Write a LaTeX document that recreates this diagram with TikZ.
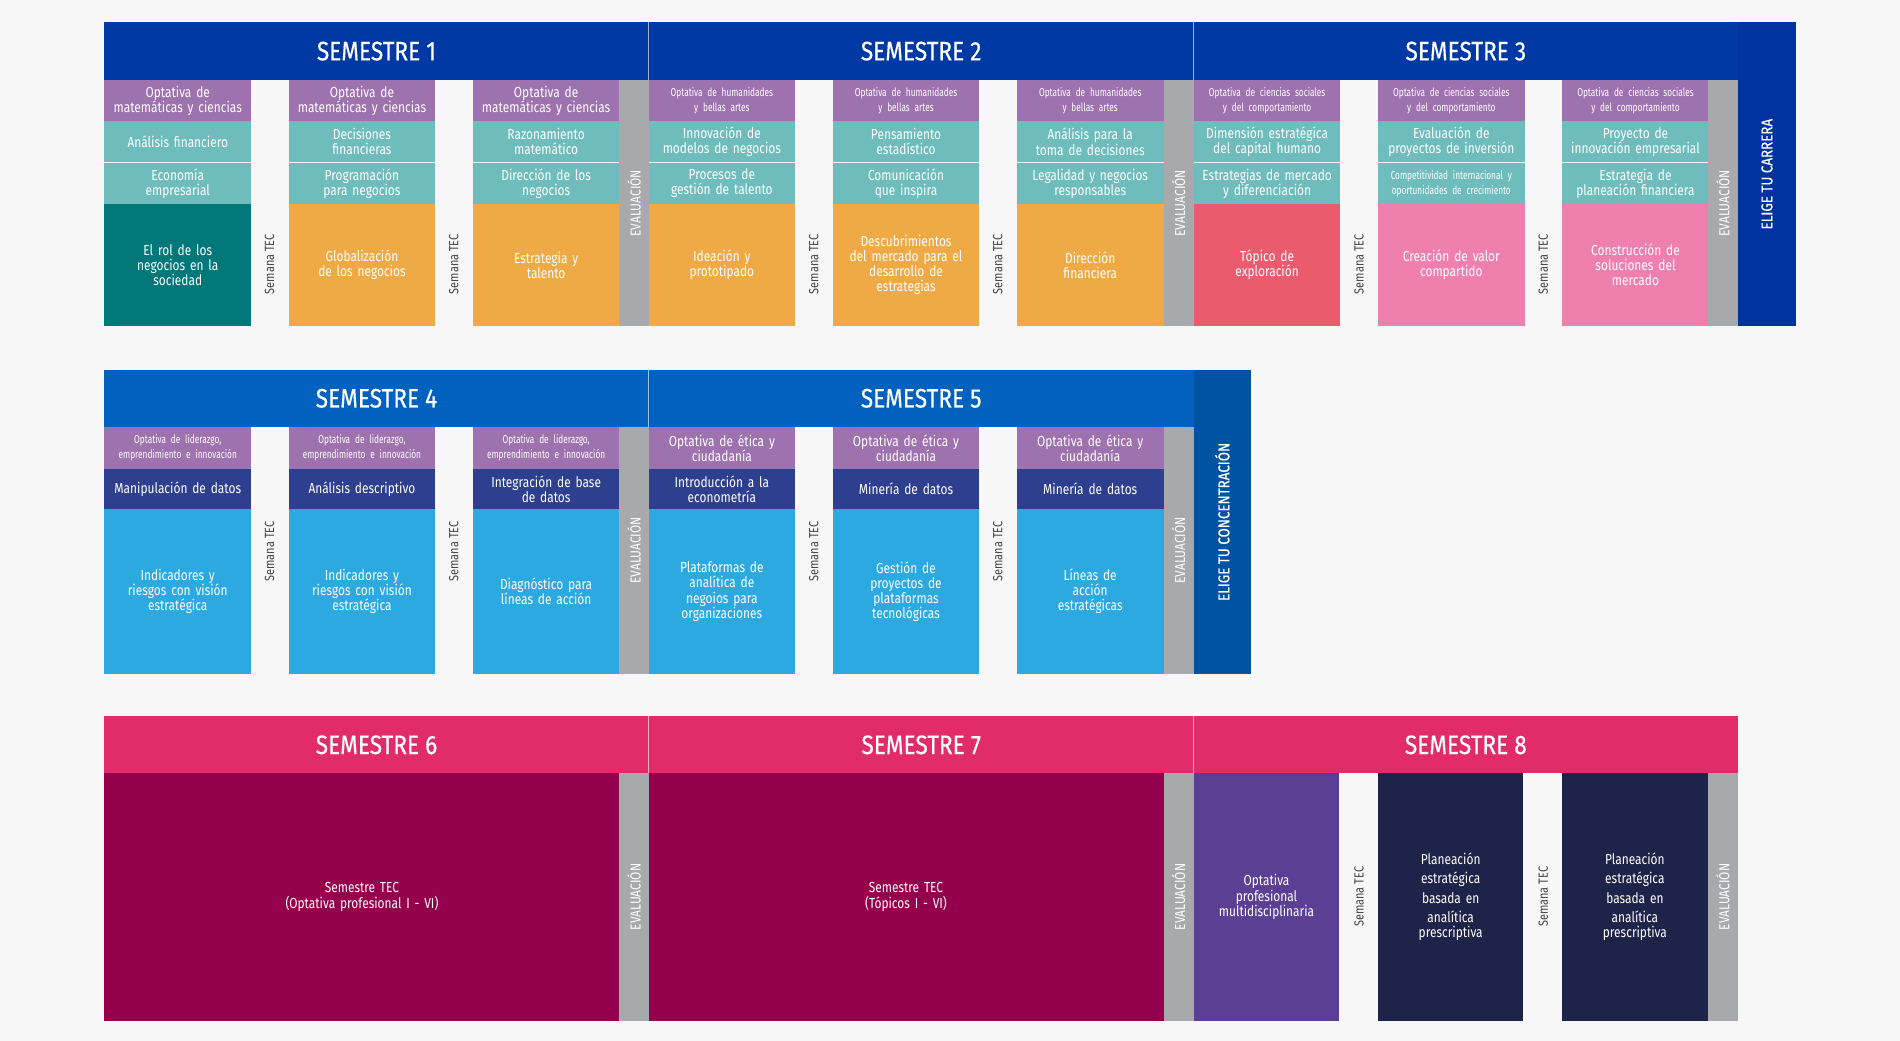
\documentclass[tikz,border=0pt]{standalone}
\usepackage{fontspec}
\setmainfont{Fira Sans}[FakeStretch=0.82]
\newfontfamily\hfont{Fira Sans}[FakeStretch=0.85,FakeBold=0.4]
\definecolor{bg}{HTML}{F7F7F7}
\definecolor{hblue}{HTML}{0039A4}
\definecolor{eblue}{HTML}{0033A0}
\definecolor{hblue2}{HTML}{0062BE}
\definecolor{hpink}{HTML}{E22C6A}
\definecolor{purp}{HTML}{9E72AE}
\definecolor{teal}{HTML}{6FBCBD}
\definecolor{dteal}{HTML}{00787A}
\definecolor{orng}{HTML}{EFAA45}
\definecolor{grey}{HTML}{A7A9AC}
\definecolor{redc}{HTML}{EB5B6E}
\definecolor{pinkc}{HTML}{EF80AE}
\definecolor{dblue}{HTML}{2E3F8F}
\definecolor{lblue}{HTML}{2CA9E1}
\definecolor{maroon}{HTML}{95004C}
\definecolor{violet}{HTML}{5B3F94}
\definecolor{navy}{HTML}{1E2449}
\definecolor{tecgrey}{HTML}{444444}
\tikzset{
 cellb/.style={anchor=north west,inner sep=0pt,align=center,text=white,font=\fontsize{12}{12.5}\selectfont},
 hdr/.style={anchor=north west,inner sep=0pt,text=white,font=\hfont\fontsize{22}{22}\selectfont},
 vtext/.style={rotate=90,text=tecgrey,font=\fontsize{11}{11}\selectfont},
 evtext/.style={rotate=90,text=white,font=\fontsize{12}{12}\selectfont},
}
% name, x, ytop, width, height, color, text
\newcommand\cb[7]{\node[cellb,fill=#6,minimum width=#4pt,minimum height=#5pt,text width=#4pt] (#1) at (#2pt,-#3pt) {#7};}
\newcommand\sm{\fontsize{9.5}{9.5}\selectfont\addfontfeature{FakeStretch=0.72}}
\begin{document}
\begin{tikzpicture}[x=1pt,y=1pt]
\fill[bg] (0,0) rectangle (1568,-859);
\useasboundingbox (0,0) rectangle (1568,-859);
% ===== Row 1 =====
\node[hdr,fill=hblue,minimum width=449pt,minimum height=48pt] (h1) at (86pt,-18pt) {SEMESTRE 1};
\node[hdr,fill=hblue,minimum width=450pt,minimum height=48pt] (h2) at (535pt,-18pt) {SEMESTRE 2};
\node[hdr,fill=hblue,minimum width=449pt,minimum height=48pt] (h3) at (985pt,-18pt) {SEMESTRE 3};
\draw[white!60!hblue,line width=0.6pt] (535,-18) -- (535,-66) (985,-18) -- (985,-66);
\node[anchor=north west,fill=eblue,minimum width=48pt,minimum height=251pt,inner sep=0pt] (elige1) at (1434pt,-18pt) {};
\node[rotate=90,text=white,font=\hfont\fontsize{13}{13}\selectfont] (elt1) at (elige1.center) {ELIGE TU CARRERA};
% S1
\cb{a1}{86}{66}{121}{34}{purp}{Optativa de\\matemáticas y ciencias}
\cb{a2}{86}{100}{121}{33.5}{teal}{Análisis financiero}
\cb{a3}{86}{134.5}{121}{33.5}{teal}{Economía\\empresarial}
\cb{a4}{86}{168}{121}{101}{dteal}{El rol de los\\negocios en la\\sociedad}
\cb{b1}{238}{66}{121}{34}{purp}{Optativa de\\matemáticas y ciencias}
\cb{b2}{238}{100}{121}{33.5}{teal}{Decisiones\\financieras}
\cb{b3}{238}{134.5}{121}{33.5}{teal}{Programación\\para negocios}
\cb{b4}{238}{168}{121}{101}{orng}{Globalización\\de los negocios}
\cb{c1}{390}{66}{121}{34}{purp}{Optativa de\\matemáticas y ciencias}
\cb{c2}{390}{100}{121}{33.5}{teal}{Razonamiento\\matemático}
\cb{c3}{390}{134.5}{121}{33.5}{teal}{Dirección de los\\negocios}
\cb{c4}{390}{168}{121}{101}{orng}{Estrategia y\\talento}
\cb{e1}{511}{66}{24}{203}{grey}{}
% S2
\cb{d1}{535}{66}{121}{34}{purp}{\sm Optativa de humanidades\\y bellas artes}
\cb{d2}{535}{100}{121}{33.5}{teal}{Innovación de\\modelos de negocios}
\cb{d3}{535}{134.5}{121}{33.5}{teal}{Procesos de\\gestión de talento}
\cb{d4}{535}{168}{121}{101}{orng}{Ideación y\\prototipado}
\cb{f1}{687}{66}{121}{34}{purp}{\sm Optativa de humanidades\\y bellas artes}
\cb{f2}{687}{100}{121}{33.5}{teal}{Pensamiento\\estadístico}
\cb{f3}{687}{134.5}{121}{33.5}{teal}{Comunicación\\que inspira}
\cb{f4}{687}{168}{121}{101}{orng}{Descubrimientos\\del mercado para el\\desarrollo de\\estrategias}
\cb{g1}{839}{66}{121}{34}{purp}{\sm Optativa de humanidades\\y bellas artes}
\cb{g2}{839}{100}{121}{33.5}{teal}{Análisis para la\\toma de decisiones}
\cb{g3}{839}{134.5}{121}{33.5}{teal}{Legalidad y negocios\\responsables}
\cb{g4}{839}{168}{121}{101}{orng}{Dirección\\financiera}
\cb{e2}{960}{66}{25}{203}{grey}{}
% S3
\cb{i1}{985}{66}{121}{34}{purp}{\sm Optativa de ciencias sociales\\y del comportamiento}
\cb{i2}{985}{100}{121}{33.5}{teal}{Dimensión estratégica\\del capital humano}
\cb{i3}{985}{134.5}{121}{33.5}{teal}{Estrategias de mercado\\y diferenciación}
\cb{i4}{985}{168}{121}{101}{redc}{Tópico de\\exploración}
\cb{j1}{1137}{66}{121}{34}{purp}{\sm Optativa de ciencias sociales\\y del comportamiento}
\cb{j2}{1137}{100}{121}{33.5}{teal}{Evaluación de\\proyectos de inversión}
\cb{j3}{1137}{134.5}{121}{33.5}{teal}{\sm Competitividad internacional y\\oportunidades de crecimiento}
\cb{j4}{1137}{168}{121}{101}{pinkc}{Creación de valor\\compartido}
\cb{k1}{1289}{66}{121}{34}{purp}{\sm Optativa de ciencias sociales\\y del comportamiento}
\cb{k2}{1289}{100}{121}{33.5}{teal}{Proyecto de\\innovación empresarial}
\cb{k3}{1289}{134.5}{121}{33.5}{teal}{Estrategia de\\planeación financiera}
\cb{k4}{1289}{168}{121}{101}{pinkc}{Construcción de\\soluciones del\\mercado}
\cb{e3}{1409}{66}{25}{203}{grey}{}
% ===== Row 2 =====
\node[hdr,fill=hblue2,minimum width=449pt,minimum height=47pt] (h4) at (86pt,-305pt) {SEMESTRE 4};
\node[hdr,fill=hblue2,minimum width=450pt,minimum height=47pt] (h5) at (535pt,-305pt) {SEMESTRE 5};
\draw[white!60!hblue2,line width=0.6pt] (535,-305) -- (535,-352);
\node[anchor=north west,fill=hblue2!85!black,minimum width=47pt,minimum height=251pt,inner sep=0pt] (elige2) at (985pt,-305pt) {};
\node[rotate=90,text=white,font=\hfont\fontsize{13}{13}\selectfont] (elt2) at (elige2.center) {ELIGE TU CONCENTRACIÓN};
\cb{m1}{86}{352}{121}{35}{purp}{\sm Optativa de liderazgo,\\emprendimiento e innovación}
\cb{m2}{86}{387}{121}{33}{dblue}{Manipulación de datos}
\cb{m3}{86}{420}{121}{136}{lblue}{Indicadores y\\riesgos con visión\\estratégica}
\cb{n1}{238}{352}{121}{35}{purp}{\sm Optativa de liderazgo,\\emprendimiento e innovación}
\cb{n2}{238}{387}{121}{33}{dblue}{Análisis descriptivo}
\cb{n3}{238}{420}{121}{136}{lblue}{Indicadores y\\riesgos con visión\\estratégica}
\cb{o1}{390}{352}{121}{35}{purp}{\sm Optativa de liderazgo,\\emprendimiento e innovación}
\cb{o2}{390}{387}{121}{33}{dblue}{Integración de base\\de datos}
\cb{o3}{390}{420}{121}{136}{lblue}{Diagnóstico para\\líneas de acción}
\cb{e4}{511}{352}{24}{204}{grey}{}
\cb{p1}{535}{352}{121}{35}{purp}{Optativa de ética y\\ciudadanía}
\cb{p2}{535}{387}{121}{33}{dblue}{Introducción a la\\econometría}
\cb{p3}{535}{420}{121}{136}{lblue}{Plataformas de\\analítica de\\negoios para\\organizaciones}
\cb{q1}{687}{352}{121}{35}{purp}{Optativa de ética y\\ciudadanía}
\cb{q2}{687}{387}{121}{33}{dblue}{Minería de datos}
\cb{q3}{687}{420}{121}{136}{lblue}{Gestión de\\proyectos de\\plataformas\\tecnológicas}
\cb{r1}{839}{352}{121}{35}{purp}{Optativa de ética y\\ciudadanía}
\cb{r2}{839}{387}{121}{33}{dblue}{Minería de datos}
\cb{r3}{839}{420}{121}{136}{lblue}{Líneas de\\acción\\estratégicas}
\cb{e5}{960}{352}{25}{204}{grey}{}
% ===== Row 3 =====
\node[hdr,fill=hpink,minimum width=449pt,minimum height=47pt] (h6) at (86pt,-591pt) {SEMESTRE 6};
\node[hdr,fill=hpink,minimum width=450pt,minimum height=47pt] (h7) at (535pt,-591pt) {SEMESTRE 7};
\node[hdr,fill=hpink,minimum width=449pt,minimum height=47pt] (h8) at (985pt,-591pt) {SEMESTRE 8};
\draw[white!60!hpink,line width=0.6pt] (535,-591) -- (535,-638) (985,-591) -- (985,-638);
\cb{s6}{86}{638}{425}{204}{maroon}{Semestre TEC\\(Optativa profesional I - VI)}
\cb{e6}{511}{638}{24}{204}{grey}{}
\cb{s7}{535}{638}{425}{204}{maroon}{Semestre TEC\\(Tópicos I - VI)}
\cb{e7}{960}{638}{25}{204}{grey}{}
\cb{t1}{985}{638}{120}{204}{violet}{Optativa\\profesional\\multidisciplinaria}
\cb{t2}{1137}{638}{120}{204}{navy}{\fontsize{12}{16}\selectfont Planeación\\estratégica\\basada en\\analítica\\prescriptiva}
\cb{t3}{1289}{638}{120}{204}{navy}{\fontsize{12}{16}\selectfont Planeación\\estratégica\\basada en\\analítica\\prescriptiva}
\cb{e8}{1409}{638}{25}{204}{grey}{}
% vertical labels
\foreach \n in {e1,e2,e3,e4,e5,e6,e7,e8} {\node[evtext] at (\n.center) {EVALUACIÓN};}
\foreach \x/\y in {222.5/218,374.5/218,671.5/218,823.5/218,1121.5/218,1273.5/218,222.5/455,374.5/455,671.5/455,823.5/455,1121.5/740,1273.5/740}
 {\node[vtext] at (\x,-\y) {Semana TEC};}
\end{tikzpicture}
\end{document}
